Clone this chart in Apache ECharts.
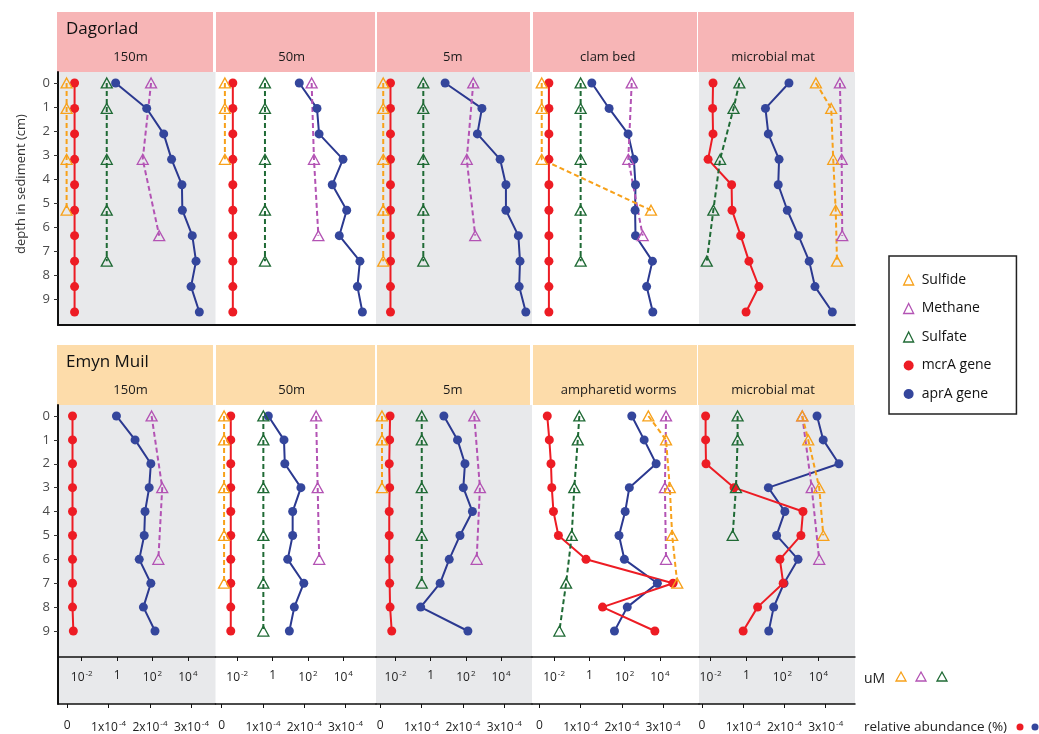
<!DOCTYPE html>
<html>
<head>
<meta charset="utf-8">
<script src="https://cdn.jsdelivr.net/npm/echarts@6/dist/echarts.min.js"></script>
<style>
  html, body { margin: 0; padding: 0; background: #fff; }
  #chart { width: 1039px; height: 734px; }
</style>
</head>
<body>
<div id="chart"></div>
<script>
// depth in sediment (cm), one value per slice
const depths = [0, 1, 2, 3, 4, 5, 6, 7, 8, 9];
const siteNames = ['Dagorlad', 'Emyn Muil'];
const dagorladPanels = ['150m', '50m', '5m', 'clam bed', 'microbial mat'];
const emynPanels = ['150m', '50m', '5m', 'ampharetid worms', 'microbial mat'];
const logTicks = [0.01, 1, 100, 10000];
const relTicks = [0, 1, 2, 3]; // x10^-4
const depthTicks = [0, 1, 2, 3, 4, 5, 6, 7, 8, 9];

// concentrations (uM), one row per panel, null = not measured
const dagorladSulfide = [
  [0.0014, 0.0014, null, 0.0014, null, 0.0014, null, null, null, null],
  [0.002, 0.002, null, 0.002, null, null, null, null, null, null],
  [0.002, 0.002, null, 0.002, null, 0.002, null, 0.002, null, null],
  [0.002, 0.002, null, 0.002, null, 3100, null, null, null, null],
  [7200, 51000, null, 66000, null, 91000, null, 107000, null, null]
];
const dagorladMethane = [
  [83, null, null, 28, null, null, 240, null, null, null],
  [162, null, null, 219, null, null, 390, null, null, null],
  [263, null, null, 112, null, null, 340, null, null, null],
  [250, null, null, 160, null, null, 1050, null, null, null],
  [155000, null, null, 195000, null, null, 209000, null, null, null]
];
const dagorladSulfate = [
  [0.26, 0.26, null, 0.26, null, 0.26, null, 0.26, null, null],
  [0.37, 0.37, null, 0.37, null, 0.37, null, 0.37, null, null],
  [0.38, 0.38, null, 0.38, null, 0.38, null, 0.38, null, null],
  [0.32, 0.32, null, 0.32, null, 0.32, null, 0.32, null, null],
  [0.40, 0.19, null, 0.034, null, 0.0144, null, 0.0062, null, null]
];
// relative abundance (x10^-4 %)
const dagorladMcrA = [
  [0.18, 0.18, 0.18, 0.18, 0.18, 0.18, 0.18, 0.18, 0.18, 0.18],
  [0.27, 0.27, 0.27, 0.27, 0.27, 0.27, 0.27, 0.27, 0.27, 0.27],
  [0.25, 0.25, 0.25, 0.25, 0.25, 0.25, 0.25, 0.25, 0.25, 0.25],
  [0.23, 0.23, 0.23, 0.23, 0.23, 0.23, 0.23, 0.23, 0.23, 0.23],
  [0.27, 0.26, 0.27, 0.15, 0.72, 0.73, 0.94, 1.14, 1.38, 1.07]
];
const dagorladAprA = [
  [1.17, 1.92, 2.33, 2.52, 2.77, 2.78, 3.02, 3.11, 2.99, 3.19],
  [1.88, 2.31, 2.36, 2.94, 2.68, 3.03, 2.85, 3.35, 3.29, 3.41],
  [1.57, 2.46, 2.35, 2.90, 3.04, 3.04, 3.34, 3.38, 3.36, 3.52],
  [1.27, 1.69, 2.15, 2.29, 2.33, 2.32, 2.33, 2.74, 2.60, 2.75],
  [2.11, 1.54, 1.61, 1.87, 1.85, 2.07, 2.34, 2.60, 2.74, 3.16]
];

const emynSulfide = [
  [null, null, null, null, null, null, null, null, null, null],
  [0.0018, 0.0018, null, 0.0018, null, 0.0018, null, 0.0018, null, null],
  [0.0017, 0.0017, null, 0.0017, null, null, null, null, null, null],
  [2200, 22000, null, 36000, null, 49000, null, 95000, null, null],
  [1260, 2700, null, 11000, null, 18600, null, null, null, null]
];
const emynMethane = [
  [89, null, null, 355, null, null, 214, null, null, null],
  [290, null, null, 355, null, null, 435, null, null, null],
  [300, null, null, 630, null, null, 410, null, null, null],
  [22000, null, null, 19000, null, null, 22000, null, null, null],
  [1260, null, null, 4200, null, null, 11000, null, null, null]
];
const emynSulfate = [
  [null, null, null, null, null, null, null, null, null, null],
  [0.30, 0.30, null, 0.30, null, 0.30, null, 0.30, null, 0.30],
  [0.31, 0.31, null, 0.31, null, 0.31, null, 0.31, null, null],
  [0.27, 0.22, null, 0.14, null, 0.10, null, 0.048, null, 0.020],
  [0.32, 0.32, null, 0.26, null, 0.17, null, null, null, null]
];
const emynMcrA = [
  [0.13, 0.13, 0.13, 0.13, 0.13, 0.13, 0.13, 0.13, 0.13, 0.15],
  [0.22, 0.22, 0.22, 0.22, 0.22, 0.22, 0.22, 0.22, 0.22, 0.22],
  [0.24, 0.23, 0.22, 0.23, 0.22, 0.22, 0.22, 0.23, 0.24, 0.28],
  [0.19, 0.24, 0.28, 0.30, 0.34, 0.46, 1.13, 3.24, 1.53, 2.80],
  [0.09, 0.09, 0.10, 0.78, 2.45, 2.40, 1.89, 1.97, 1.35, 1.00]
];
const emynAprA = [
  [1.19, 1.64, 2.02, 1.98, 1.88, 1.86, 1.74, 2.02, 1.84, 2.12],
  [1.13, 1.51, 1.53, 1.92, 1.72, 1.72, 1.60, 1.99, 1.76, 1.64],
  [1.54, 1.87, 2.05, 2.01, 2.23, 1.93, 1.67, 1.45, 0.98, 2.12],
  [2.24, 2.54, 2.83, 2.18, 2.08, 1.93, 2.06, 2.86, 2.13, 1.82],
  [2.79, 2.94, 3.32, 1.61, 2.01, 1.81, 2.33, 1.99, 1.74, 1.62]
];

const FONT = '"Open Sans", sans-serif';
const colors = {
  sulfide: '#f7a11a',
  methane: '#b353b4',
  sulfate: '#1f6a35',
  mcrA: '#ed1c24',
  aprA: '#2b3990',
  aprADot: '#34469c'
};

// panel columns (px) and axis windows per column
const colLeft = [58, 215.5, 376, 532, 699];
const colRight = [215.5, 376, 532, 699, 855];
const logRange = [[-3.34, 5.56], [-3.23, 5.85], [-3.11, 5.76], [-3.25, 6.21], [-2.64, 6.03]]; // exponents
const relRange = [[-0.22, 3.58], [-0.15, 3.74], [-0.10, 3.67], [-0.18, 3.87], [-0.07, 3.71]];
const rowTop = [72, 405];
const rowHeight = [253, 299];
const dataY = [[-0.432, 9.51], [-0.46, 12.055]];
const labelY = [[-0.458, 10.083], [-0.46, 12.055]];

const sites = [
  { sulfide: dagorladSulfide, methane: dagorladMethane, sulfate: dagorladSulfate, mcrA: dagorladMcrA, aprA: dagorladAprA, panels: dagorladPanels },
  { sulfide: emynSulfide, methane: emynMethane, sulfate: emynSulfate, mcrA: emynMcrA, aprA: emynAprA, panels: emynPanels }
];

const supRich = {
  b: { fontSize: 12, fontFamily: FONT, color: '#222' },
  sup: { fontSize: 8, fontFamily: FONT, color: '#222', padding: [0, 0, 7, 1] }
};
function logLabel(v) {
  const e = Math.round(Math.log10(v));
  return e === 0 ? '{b|1}' : '{b|10}{sup|' + e + '}';
}
function relLabel(v) {
  const n = Math.round(v);
  return n === 0 ? '{b|0}' : '{b|' + n + 'x10}{sup|-4}';
}
function pts(vals) {
  return depths.map((d, k) => [vals[k], d]).filter(p => p[0] != null);
}

const grids = [], xAxes = [], yAxes = [], series = [];
const graphics = [];

for (let r = 0; r < 2; r++) {
  const site = sites[r];
  for (let c = 0; c < 5; c++) {
    const g = r * 5 + c;
    grids.push({
      left: colLeft[c], width: colRight[c] - colLeft[c],
      top: rowTop[r], height: rowHeight[r],
      show: true, backgroundColor: c % 2 === 0 ? '#e8e9eb' : 'transparent',
      borderWidth: 0, outerBoundsMode: 'none'
    });
    // log axis for concentrations
    xAxes.push({
      gridIndex: g, type: 'log',
      min: Math.pow(10, logRange[c][0]), max: Math.pow(10, logRange[c][1]),
      position: 'bottom', offset: r ? -47 : 0,
      axisLine: { show: true, onZero: false, lineStyle: { color: '#111', width: r ? 1.5 : 2 } },
      axisTick: { show: r === 1, customValues: logTicks, length: 4, lineStyle: { color: '#111' } },
      axisLabel: { show: r === 1, customValues: logTicks, formatter: logLabel, rich: supRich, margin: 13 },
      splitLine: { show: false }
    });
    // linear axis for gene abundance
    xAxes.push({
      gridIndex: g, type: 'value',
      min: relRange[c][0], max: relRange[c][1],
      position: 'bottom', show: r === 1,
      axisLine: { show: true, onZero: false, lineStyle: { color: '#111', width: 1.5 } },
      axisTick: { show: true, customValues: relTicks, length: 4, lineStyle: { color: '#111' } },
      axisLabel: { customValues: relTicks, formatter: relLabel, rich: supRich, margin: 16 },
      splitLine: { show: false }
    });
    yAxes.push({
      gridIndex: g, type: 'value', inverse: true,
      min: dataY[r][0], max: dataY[r][1], show: false
    });
    yAxes.push({
      gridIndex: g, type: 'value', inverse: true,
      min: labelY[r][0], max: labelY[r][1], show: c === 0, position: 'left',
      axisLine: { show: true, onZero: false, lineStyle: { color: '#111', width: 2 } },
      axisTick: { show: true, customValues: depthTicks, length: 4, lineStyle: { color: '#333' } },
      axisLabel: { customValues: depthTicks, color: '#4a4a4a', fontSize: 13, fontFamily: FONT, margin: 8 },
      splitLine: { show: false }
    });

    const xl = 2 * g, xr = 2 * g + 1, yd = 2 * g;
    series.push({
      name: 'aprA gene', type: 'line', xAxisIndex: xr, yAxisIndex: yd,
      data: pts(site.aprA[c]), symbol: 'circle', symbolSize: 9,
      itemStyle: { color: colors.aprADot }, lineStyle: { color: colors.aprA, width: 2 }
    });
    series.push({
      name: 'mcrA gene', type: 'line', xAxisIndex: xr, yAxisIndex: yd,
      data: pts(site.mcrA[c]), symbol: 'circle', symbolSize: 9,
      itemStyle: { color: colors.mcrA }, lineStyle: { color: colors.mcrA, width: 2 }
    });
    [['Sulfate', 'sulfate'], ['Methane', 'methane'], ['Sulfide', 'sulfide']].forEach(([name, key]) => {
      series.push({
        name: name, type: 'line', xAxisIndex: xl, yAxisIndex: yd,
        data: pts(site[key][c]), symbol: 'triangle', symbolSize: [11, 10],
        itemStyle: { color: 'rgba(0,0,0,0)', borderColor: colors[key], borderWidth: 1.3 },
        lineStyle: { color: colors[key], width: 2, type: [5, 3] }
      });
    });
  }
}

// facet strips
const stripX = [57, 216, 377, 533, 698];
const stripW = [156, 159, 153, 164, 156];
const stripTop = [12, 345];
const stripFill = ['#f7b5b6', '#fddcaa'];
const subX = [[130.5, 291.7, 452.7, 607.8, 773], [130.5, 291.7, 452.7, 618.7, 773]];
for (let r = 0; r < 2; r++) {
  for (let c = 0; c < 5; c++) {
    graphics.push({
      type: 'rect', silent: true, z: 0,
      shape: { x: stripX[c], y: stripTop[r], width: stripW[c], height: 60 },
      style: { fill: stripFill[r] }
    });
    graphics.push({
      type: 'text', silent: true, z: 1, x: subX[r][c], y: stripTop[r] + 45.5,
      style: { text: sites[r].panels[c], fill: '#1a1a1a', font: '13px ' + FONT, textAlign: 'center', textVerticalAlign: 'middle' }
    });
  }
  graphics.push({
    type: 'text', silent: true, z: 1, x: 66, y: stripTop[r] + 17.5,
    style: { text: siteNames[r], fill: '#111', font: '17px ' + FONT, textAlign: 'left', textVerticalAlign: 'middle' }
  });
}
graphics.push({
  type: 'text', silent: true, x: 21, y: 184, rotation: Math.PI / 2,
  style: { text: 'depth in sediment (cm)', fill: '#333', font: '13px ' + FONT, textAlign: 'center', textVerticalAlign: 'middle' }
});
// axis keys bottom right
graphics.push({
  type: 'text', silent: true, x: 864, y: 679,
  style: { text: 'uM', fill: '#222', font: '14px ' + FONT, textAlign: 'left', textVerticalAlign: 'middle' }
});
[[901, colors.sulfide], [921, colors.methane], [942, colors.sulfate]].forEach(([cx, col]) => {
  graphics.push({
    type: 'polygon', silent: true,
    shape: { points: [[cx, 672], [cx + 5, 681], [cx - 5, 681]] },
    style: { fill: 'none', stroke: col, lineWidth: 1.3 }
  });
});
graphics.push({
  type: 'text', silent: true, x: 864, y: 727,
  style: { text: 'relative abundance (%)', fill: '#222', font: '13.5px ' + FONT, textAlign: 'left', textVerticalAlign: 'middle' }
});
[[1020, colors.mcrA], [1035, colors.aprADot]].forEach(([cx, col]) => {
  graphics.push({ type: 'circle', silent: true, shape: { cx: cx, cy: 727, r: 3.5 }, style: { fill: col } });
});

const hollow = col => ({ color: 'rgba(0,0,0,0)', borderColor: col, borderWidth: 1.3 });
const chart = echarts.init(document.getElementById('chart'));
chart.setOption({
  animation: false,
  textStyle: { fontFamily: FONT },
  grid: grids,
  xAxis: xAxes,
  yAxis: yAxes,
  series: series,
  graphic: graphics,
  legend: {
    orient: 'vertical', left: 889, top: 256,
    padding: [17, 25, 13, 14], itemGap: 14.5,
    itemWidth: 10, itemHeight: 10,
    borderColor: '#222', borderWidth: 1.5,
    selectedMode: false,
    textStyle: { fontSize: 14, color: '#111', fontFamily: FONT, padding: [0, 0, 0, 3] },
    data: [
      { name: 'Sulfide', icon: 'triangle', itemStyle: hollow(colors.sulfide) },
      { name: 'Methane', icon: 'triangle', itemStyle: hollow(colors.methane) },
      { name: 'Sulfate', icon: 'triangle', itemStyle: hollow(colors.sulfate) },
      { name: 'mcrA gene', icon: 'circle', itemStyle: { color: colors.mcrA, borderWidth: 0 } },
      { name: 'aprA gene', icon: 'circle', itemStyle: { color: colors.aprADot, borderWidth: 0 } }
    ]
  }
});
</script>
</body>
</html>
